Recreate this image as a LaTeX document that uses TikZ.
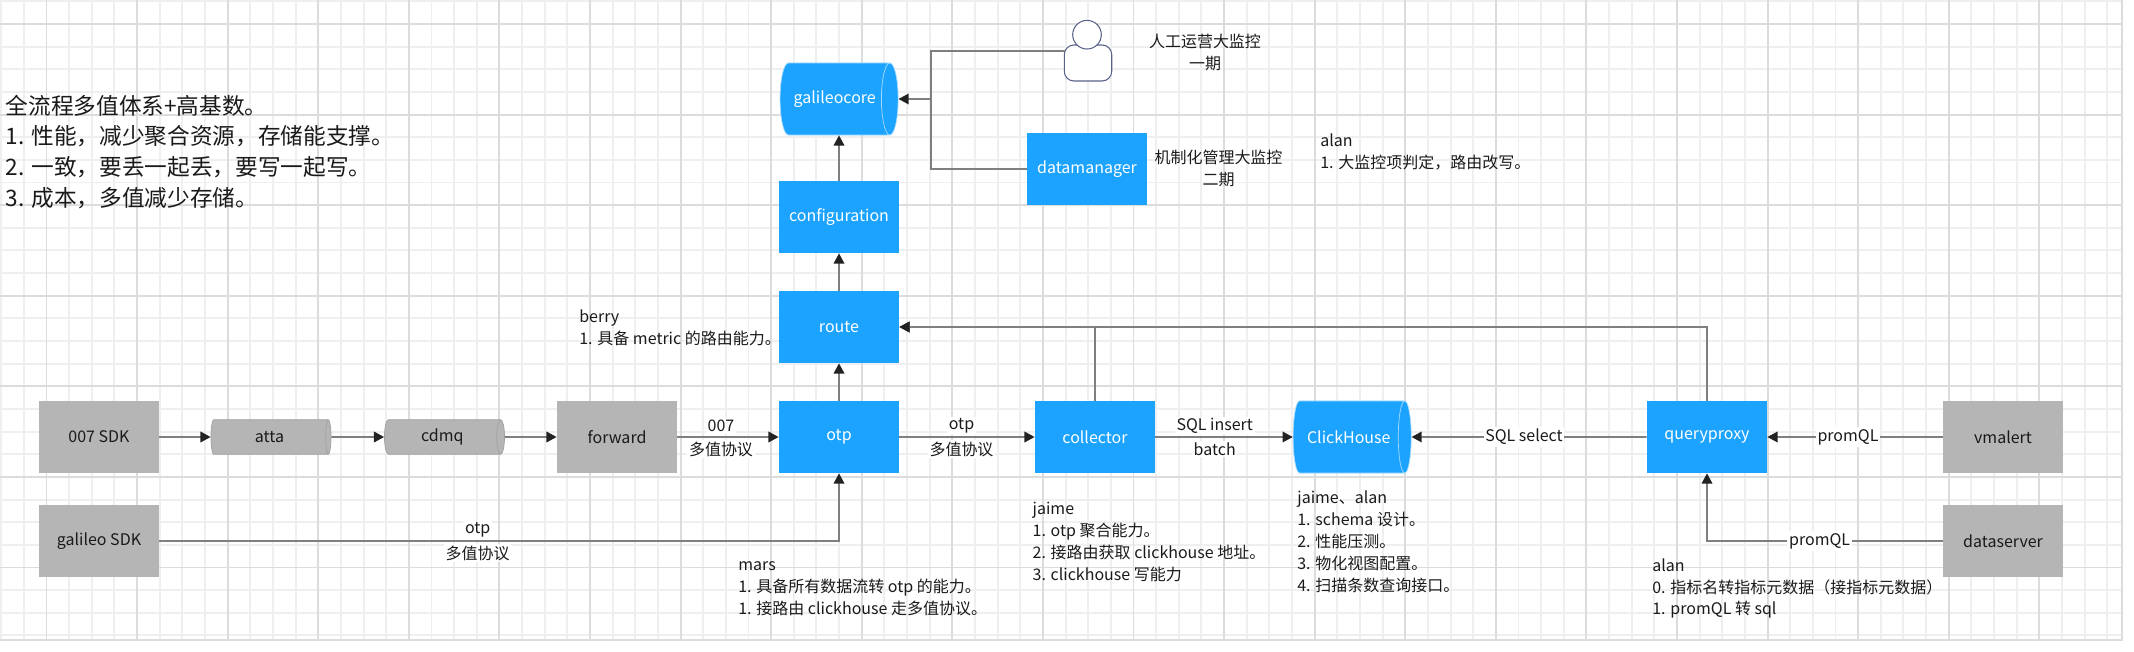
\documentclass[tikz,border=0pt]{standalone}
\usepackage{fontspec}
\setmainfont{Noto Sans CJK SC}
\usetikzlibrary{arrows.meta,shapes.geometric}
\definecolor{boxblue}{HTML}{1CA3FF}
\definecolor{boxgrey}{HTML}{B5B5B5}
\definecolor{tankedge}{HTML}{A0A0A0}
\definecolor{linegrey}{HTML}{7F7F7F}
\definecolor{tipdark}{HTML}{222222}
\definecolor{inkdark}{HTML}{1A1A1A}
\definecolor{gridminor}{HTML}{EFEFEF}
\definecolor{gridmajor}{HTML}{DCDCDC}
\definecolor{userline}{HTML}{5A6288}
\newcommand{\qcomma}{\char"FF0C\relax}
\newcommand{\qopen}{\char"FF08\relax}
\newcommand{\qclose}{\char"FF09\relax}
\tikzset{
    basebox/.style={rectangle,minimum width=68.3pt,minimum height=41pt,inner sep=0pt,font=\fontsize{9.1pt}{12.5pt}\selectfont},
    blueblock/.style={basebox,fill=boxblue,text=white},
    greyblock/.style={basebox,fill=boxgrey,text=inkdark},
    basetank/.style={cylinder,inner sep=0pt,font=\fontsize{9.1pt}{12.5pt}\selectfont},
    bluetank/.style={basetank,shape aspect=1,minimum height=67.2pt,minimum width=41pt,draw=white!60!boxblue,line width=0.4pt,fill=boxblue,text=white},
    greytank/.style={basetank,shape aspect=0.47,minimum height=68.3pt,minimum width=19.7pt,draw=tankedge,line width=0.4pt,fill=boxgrey,text=inkdark},
    notetext/.style={anchor=west,align=left,inner sep=0pt,text=inkdark,font=\fontsize{9.1pt}{12.5pt}\selectfont},
    centretext/.style={notetext,anchor=center,align=center},
    headtext/.style={notetext,font=\fontsize{12.9pt}{17.6pt}\selectfont},
    edgetext/.style={inner sep=1pt,fill=white,text=inkdark,font=\fontsize{9.1pt}{12.5pt}\selectfont},
    connplain/.style={draw=linegrey,line width=0.95pt},
    conn/.style={connplain,-{Triangle[length=5.8pt,width=6pt,color=tipdark]}}
}

\begin{document}
\begin{tikzpicture}[x=0.02cm,y=-0.02cm]
    \useasboundingbox (0,0) rectangle (2134,652);

    % grid
    \draw[step=0.453cm,gridminor,line width=1.1pt,shift={(46.5,24)}] (-46.5,616) grid (2075.5,-24);
    \draw[step=1.812cm,gridmajor,line width=1.1pt,shift={(46.5,24)}] (-46.5,616) grid (2075.5,-24);
    \draw[gridmajor,line width=1.4pt] (0,640) -- (2122,640) -- (2122,0);

    % top
    \node[bluetank] (galileocore) at (834.75,99) {galileocore};
    \node[blueblock] (configuration) at (839,217) {configuration};
    \node[blueblock] (route) at (839,327) {route};
    \node[blueblock] (datamanager) at (1087,169) {datamanager};
    \node[rectangle,rounded corners=5.5pt,draw=userline,line width=0.6pt,fill=white,minimum width=27pt,minimum height=20.5pt,inner sep=0pt] (userbody) at (1088,63) {};
    \node[circle,draw=userline,line width=0.6pt,fill=white,minimum size=16.3pt,inner sep=0pt] (userhead) at (1087,34.7) {};

    % middle row
    \node[greyblock] (sdkseven) at (99,437) {007 SDK};
    \node[greytank] (atta) at (269.5,437) {atta};
    \node[greytank] (cdmq) at (442.4,437) {cdmq};
    \node[greyblock] (forward) at (617,437) {forward};
    \node[blueblock] (otp) at (839,437) {otp};
    \node[blueblock] (collector) at (1095,437) {collector};
    \node[bluetank] (clickhouse) at (1348.75,437) {ClickHouse};
    \node[blueblock] (queryproxy) at (1707,437) {queryproxy};
    \node[greyblock] (vmalert) at (2003,437) {vmalert};

    % bottom row
    \node[greyblock] (galileosdk) at (99,541) {galileo SDK};
    \node[greyblock] (dataserver) at (2003,541) {dataserver};

    \coordinate (userport) at (1064.5,51);
    \coordinate (coreport) at (931,99);

    \draw[connplain] (userport) -| (coreport);
    \draw[connplain] (datamanager.west) -| (coreport);
    \draw[conn] (coreport) -- (galileocore.east);
    \draw[conn] (configuration.north) -- (configuration.north |- galileocore.south);
    \draw[conn] (route) -- (configuration);
    \draw[conn] (otp) -- (route);
    \draw[conn] (collector.north) |- (route.east);
    \draw[conn] (queryproxy.north) |- (route.east);
    \draw[conn] (sdkseven) -- (atta);
    \draw[conn] (atta) -- (cdmq);
    \draw[conn] (cdmq) -- (forward);
    \draw[conn] (forward) -- (otp);
    \draw[conn] (otp) -- (collector);
    \draw[conn] (collector) -- (clickhouse);
    \draw[conn] (queryproxy) -- (clickhouse);
    \draw[conn] (vmalert) -- (queryproxy);
    \draw[conn] (galileosdk) -| (otp);
    \draw[conn] (dataserver) -| (queryproxy);

    % connector labels
    \node[edgetext] (forwardtop) at (721,426) {007};
    \node[edgetext] (forwardlow) at (721,449) {多值协议};
    \node[edgetext] (otptop) at (961.5,426) {otp};
    \node[edgetext] (otplow) at (961.5,449) {多值协议};
    \node[edgetext] (sqltop) at (1214.7,426) {SQL insert};
    \node[edgetext] (sqllow) at (1214.7,449) {batch};
    \node[edgetext] (sqlselect) at (1524,437) {SQL select};
    \node[edgetext] (promvm) at (1848,437) {promQL};
    \node[edgetext] (sdktop) at (477.7,530) {otp};
    \node[edgetext] (sdklow) at (477.7,553) {多值协议};
    \node[edgetext] (promds) at (1819.6,541) {promQL};

    % notes
    \node[headtext] (goals) at (5.4,152) {全流程多值体系+高基数。\\1. 性能\qcomma 减少聚合资源\qcomma 存储能支撑。\\2. 一致\qcomma 要丢一起丢\qcomma 要写一起写。\\3. 成本\qcomma 多值减少存储。};
    \node[centretext] (phaseone) at (1205,52) {人工运营大监控\\一期};
    \node[centretext] (phasetwo) at (1218.5,168.5) {机制化管理大监控\\二期};
    \node[notetext] (alantop) at (1320,152) {alan\\1. 大监控项判定\qcomma 路由改写。};
    \node[notetext] (berry) at (579,327.5) {berry\\1. 具备 metric 的路由能力。};
    \node[notetext] (mars) at (738,588.5) {mars\\1. 具备所有数据流转 otp 的能力。\\1. 接路由 clickhouse 走多值协议。};
    \node[notetext] (jaime) at (1032.3,541.8) {jaime\\1. otp 聚合能力。\\2. 接路由获取 clickhouse 地址。\\3. clickhouse 写能力};
    \node[notetext] (jaimealan) at (1297,542) {jaime、alan\\1. schema 设计。\\2. 性能压测。\\3. 物化视图配置。\\4. 扫描条数查询接口。};
    \node[notetext] (alanlow) at (1652,588.5) {alan\\0. 指标名转指标元数据\qopen 接指标元数据\qclose\\1. promQL 转 sql};
\end{tikzpicture}
\end{document}
